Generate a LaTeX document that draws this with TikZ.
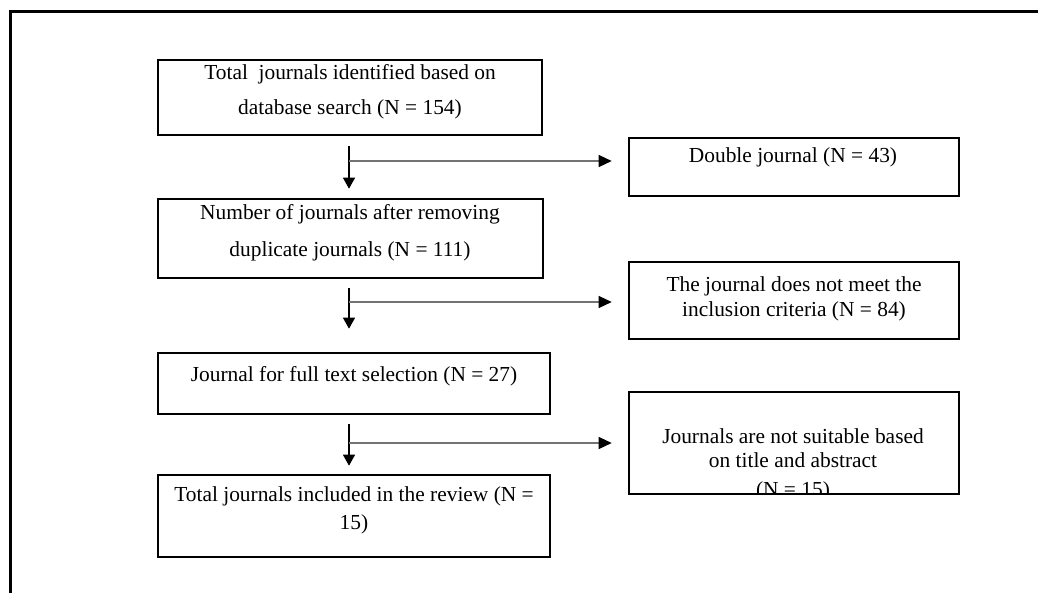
\documentclass[tikz,border=0pt]{standalone}
\usepackage{fontspec}
\setmainfont{Liberation Serif}
\usetikzlibrary{arrows.meta}
\begin{document}
\begin{tikzpicture}[x=1pt,y=-1pt,
  boxstyle/.style={draw=black,line width=2.6pt,inner sep=0pt},
  txt/.style={inner sep=0pt,align=center,font=\fontsize{21.4}{25}\selectfont},
  mainarrow/.style={line width=1.1pt,-{Triangle[width=12pt,length=11pt]}},
  sidearrow/.style={draw=black!55,line width=1.3pt,-{Triangle[width=12pt,length=13pt,color=black]}},
  frameline/.style={line width=3.3pt,line cap=rect}]
\useasboundingbox (0,0) rectangle (1038,592);
% outer frame (open at right and bottom)
\coordinate (fc) at (10.5,11.5);
\coordinate (fr) at (1045,11.5);
\coordinate (fb) at (10.5,600);
\draw[frameline] (fr) -- (fc) -- (fb);
% main boxes
\node[boxstyle,minimum width=384pt,minimum height=75pt] (b1) at (350,97.5) {};
\node[boxstyle,minimum width=385pt,minimum height=79pt] (b2) at (350.5,238.5) {};
\node[boxstyle,minimum width=392pt,minimum height=61pt] (b3) at (354,383.5) {};
\node[boxstyle,minimum width=392pt,minimum height=82pt] (b4) at (354,516) {};
% side boxes
\node[boxstyle,minimum width=330pt,minimum height=58pt] (d1) at (794,167) {};
\node[boxstyle,minimum width=330pt,minimum height=77pt] (d2) at (794,300.5) {};
% texts
\node[txt,font=\fontsize{21.4}{35}\selectfont] (t1) at (350,91.5) {Total\ \ journals identified based on\\database search (N = 154)};
\node[txt,font=\fontsize{21.4}{37}\selectfont] (t2) at (350,232.5) {Number of journals after removing\\duplicate journals (N = 111)};
\node[txt] (t3) at (354,376) {Journal for full text selection (N = 27)};
\node[txt,font=\fontsize{21.4}{28}\selectfont] (t4) at (354,510) {Total journals included in the review (N =\\15)};
\node[txt] (s1) at (793,157) {Double journal (N = 43)};
\node[txt] (s2) at (794,298.5) {The journal does not meet the\\inclusion criteria (N = 84)};
\begin{scope}
\clip (629,392) rectangle (959,494);
\node[txt,font=\fontsize{21.4}{24}\selectfont] (s3) at (793,465) {Journals are not suitable based\\on title and abstract\\[5pt](N = 15)};
\end{scope}
\node[boxstyle,minimum width=330pt,minimum height=102pt] (d3) at (794,443) {};
% branch points
\coordinate (j1) at (349,161);
\coordinate (j2) at (349,302);
\coordinate (j3) at (349,443);
% vertical arrows
\draw[mainarrow,shorten <=10pt,shorten >=9pt] (b1.south -| j1) -- (b2.north -| j1);
\draw[mainarrow,shorten <=9pt,shorten >=23pt] (b2.south -| j2) -- (b3.north -| j2);
\draw[mainarrow,shorten <=9pt,shorten >=8pt] (b3.south -| j3) -- (b4.north -| j3);
% side arrows
\draw[sidearrow,shorten >=16pt] (j1) -- (d1.west |- j1);
\draw[sidearrow,shorten >=16pt] (j2) -- (d2.west |- j2);
\draw[sidearrow,shorten >=16pt] (j3) -- (d3.west |- j3);
\end{tikzpicture}
\end{document}
